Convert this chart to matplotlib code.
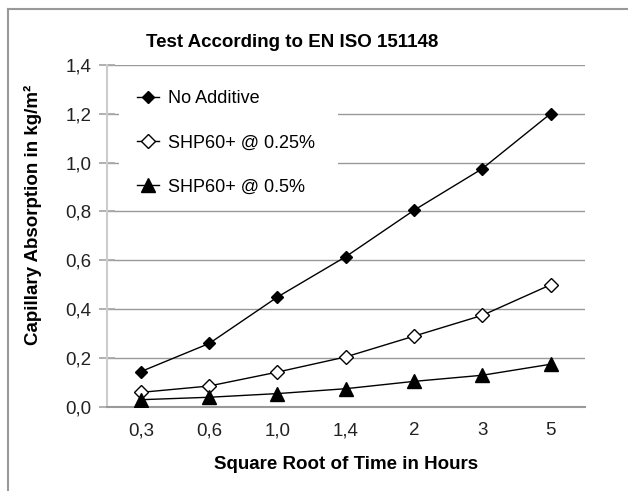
import matplotlib.pyplot as plt
from matplotlib.lines import Line2D
from matplotlib.patches import Rectangle

plt.rcParams['font.family'] = ['Liberation Sans', 'DejaVu Sans']

# data
time_labels = ["0,3", "0,6", "1,0", "1,4", "2", "3", "5"]
no_additive = [0.145, 0.26, 0.45, 0.615, 0.805, 0.975, 1.20]
shp_025 = [0.06, 0.086, 0.143, 0.205, 0.29, 0.375, 0.50]
shp_05 = [0.03, 0.04, 0.055, 0.075, 0.105, 0.13, 0.175]
y_ticks = [0.0, 0.2, 0.4, 0.6, 0.8, 1.0, 1.2, 1.4]

fig = plt.figure(figsize=(6.28, 4.91), dpi=100)
ax = fig.add_axes([0.170, 0.171, 0.761, 0.697])

x = range(len(time_labels))
ax.plot(x, no_additive, color="black", lw=1, marker="D", ms=6.5,
        mfc="black", mec="black", label="No Additive", zorder=3)
ax.plot(x, shp_025, color="black", lw=1, marker="D", ms=7.5,
        mfc="white", mec="black", mew=1, label="SHP60+ @ 0.25%", zorder=3)
ax.plot(x, shp_05, color="black", lw=1, marker="^", ms=9.5,
        mfc="black", mec="black", label="SHP60+ @ 0.5%", zorder=3)

ax.set_xlim(-0.5, len(time_labels) - 0.5)
ax.set_ylim(0, 1.4)
ax.set_xticks(list(x))
ax.set_xticklabels(time_labels)
ax.set_yticks(y_ticks)
ax.set_yticklabels([f"{v:.1f}".replace(".", ",") for v in y_ticks])
ax.tick_params(axis="x", length=0, pad=11, labelsize=13.5, labelcolor="#222222")
ax.tick_params(axis="y", direction="inout", length=12, color="#aaaaaa",
               width=1.3, pad=5, labelsize=13.5, labelcolor="#222222")

ax.grid(axis="y", color="#999999", lw=1)
ax.set_axisbelow(True)
for side in ["top", "right"]:
    ax.spines[side].set_visible(False)
ax.spines["left"].set_color("#cccccc")
ax.spines["left"].set_linewidth(1.5)
ax.spines["bottom"].set_color("#999999")
ax.spines["bottom"].set_linewidth(1.5)

# white patch behind the legend hides part of the grid
ax.add_patch(Rectangle((0.025, 0.61), 0.458, 0.37, transform=ax.transAxes,
                       facecolor="white", edgecolor="none", zorder=1))

fig.text(0.465, 0.913, "Test According to EN ISO 151148", fontsize=13.5,
         fontweight="bold", ha="center", va="center")
ax.set_xlabel("Square Root of Time in Hours", fontsize=13.5,
              fontweight="bold", labelpad=12)
ax.set_ylabel("Capillary Absorption in kg/m²", fontsize=13.5,
              fontweight="bold")
ax.yaxis.set_label_coords(-0.136, 0.561)

ax.legend(loc="upper left", bbox_to_anchor=(0.063, 0.925), fontsize=13,
          frameon=False, labelspacing=1.5, handlelength=1.2,
          handletextpad=0.55, borderpad=0.0, borderaxespad=0.0)

# partial border of the original figure frame
fig.add_artist(Line2D([0.013, 1.0], [0.981, 0.981], color="#999999", lw=1.5))
fig.add_artist(Line2D([0.013, 0.013], [0.0, 0.981], color="#999999", lw=1.5))

fig.savefig("out.png", dpi=100, facecolor="white")
